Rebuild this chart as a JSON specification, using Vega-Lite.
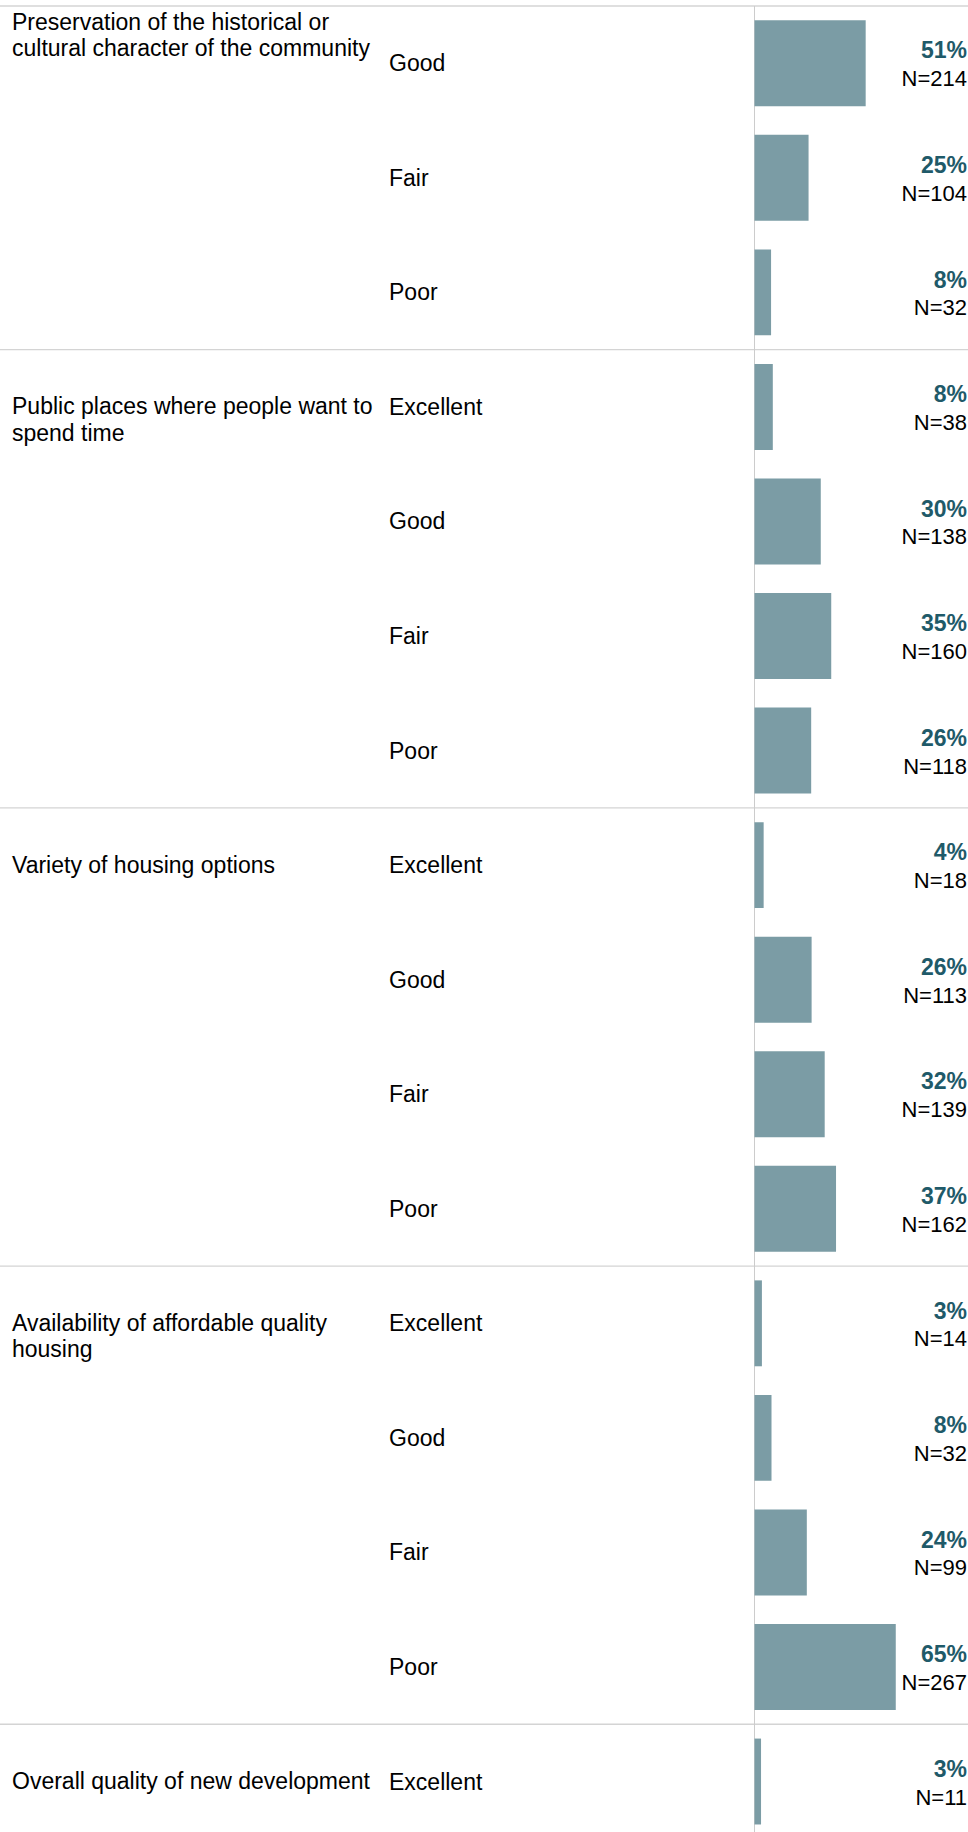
{
  "$schema": "https://vega.github.io/schema/vega-lite/v6.json",
  "width": 968,
  "height": 1826,
  "autosize": {"type": "none"},
  "padding": {"top": 6, "left": 0, "right": 0, "bottom": 0},
  "background": "white",
  "config": {"view": {"stroke": null}, "font": "Liberation Sans"},
  "data": {
    "values": [
      {"row": 1, "question": "Preservation of the historical or\ncultural character of the community", "rating": "Good", "pct": 0.510, "n": 214},
      {"row": 2, "question": "Preservation of the historical or\ncultural character of the community", "rating": "Fair", "pct": 0.248, "n": 104},
      {"row": 3, "question": "Preservation of the historical or\ncultural character of the community", "rating": "Poor", "pct": 0.076, "n": 32},
      {"row": 4, "question": "Public places where people want to\nspend time", "rating": "Excellent", "pct": 0.084, "n": 38},
      {"row": 5, "question": "Public places where people want to\nspend time", "rating": "Good", "pct": 0.304, "n": 138},
      {"row": 6, "question": "Public places where people want to\nspend time", "rating": "Fair", "pct": 0.352, "n": 160},
      {"row": 7, "question": "Public places where people want to\nspend time", "rating": "Poor", "pct": 0.260, "n": 118},
      {"row": 8, "question": "Variety of housing options", "rating": "Excellent", "pct": 0.042, "n": 18},
      {"row": 9, "question": "Variety of housing options", "rating": "Good", "pct": 0.262, "n": 113},
      {"row": 10, "question": "Variety of housing options", "rating": "Fair", "pct": 0.322, "n": 139},
      {"row": 11, "question": "Variety of housing options", "rating": "Poor", "pct": 0.374, "n": 162},
      {"row": 12, "question": "Availability of affordable quality\nhousing", "rating": "Excellent", "pct": 0.034, "n": 14},
      {"row": 13, "question": "Availability of affordable quality\nhousing", "rating": "Good", "pct": 0.078, "n": 32},
      {"row": 14, "question": "Availability of affordable quality\nhousing", "rating": "Fair", "pct": 0.240, "n": 99},
      {"row": 15, "question": "Availability of affordable quality\nhousing", "rating": "Poor", "pct": 0.648, "n": 267},
      {"row": 16, "question": "Overall quality of new development", "rating": "Excellent", "pct": 0.030, "n": 11}
    ]
  },
  "encoding": {
    "y": {
      "field": "row",
      "type": "ordinal",
      "scale": {"range": [0, 1832.8], "paddingInner": 0.25, "paddingOuter": 0.125},
      "axis": null
    }
  },
  "layer": [
    {
      "transform": [{"filter": "datum.row == 1 || datum.rating == 'Excellent'"}],
      "mark": {"type": "rule", "color": "#d4d4d4", "strokeWidth": 1.3, "yOffset": -14.3},
      "encoding": {
        "y": {"field": "row", "type": "ordinal", "bandPosition": 0}
      }
    },
    {
      "mark": {"type": "rule", "color": "#cccccc", "strokeWidth": 1},
      "encoding": {
        "y": null,
        "x": {"datum": 0, "type": "quantitative", "scale": {"domain": [0, 1], "range": [754.5, 972.5], "zero": true, "nice": false}, "axis": null}
      }
    },
    {
      "mark": {"type": "bar", "color": "#7b9ca5"},
      "encoding": {
        "x": {"field": "pct", "type": "quantitative", "axis": null}
      }
    },
    {
      "mark": {"type": "text", "align": "left", "baseline": "middle", "fontSize": 23, "color": "#000000", "x": 389, "dy": 1},
      "encoding": {
        "text": {"field": "rating", "type": "nominal"}
      }
    },
    {
      "mark": {"type": "text", "align": "right", "baseline": "middle", "fontSize": 23, "fontWeight": "bold", "color": "#1f5a69", "x": 967, "dy": -11.8},
      "encoding": {
        "text": {"field": "pct", "type": "quantitative", "format": ".0%"}
      }
    },
    {
      "transform": [{"calculate": "'N=' + datum.n", "as": "nlabel"}],
      "mark": {"type": "text", "align": "right", "baseline": "middle", "fontSize": 22, "color": "#000000", "x": 967, "dy": 16},
      "encoding": {
        "text": {"field": "nlabel", "type": "nominal"}
      }
    },
    {
      "transform": [{"filter": "datum.rating == 'Excellent'"}],
      "mark": {"type": "text", "align": "left", "baseline": "top", "fontSize": 23, "color": "#000000", "x": 12, "dy": -10.5, "lineBreak": "\n", "lineHeight": 26.5},
      "encoding": {
        "text": {"field": "question", "type": "nominal"}
      }
    },
    {
      "transform": [{"filter": "datum.row == 1"}],
      "mark": {"type": "text", "align": "left", "baseline": "top", "fontSize": 23, "color": "#000000", "x": 12, "dy": -8.8, "lineBreak": "\n", "lineHeight": 26.5},
      "encoding": {
        "text": {"field": "question", "type": "nominal"},
        "y": {"field": "row", "type": "ordinal", "bandPosition": 0}
      }
    }
  ]
}
